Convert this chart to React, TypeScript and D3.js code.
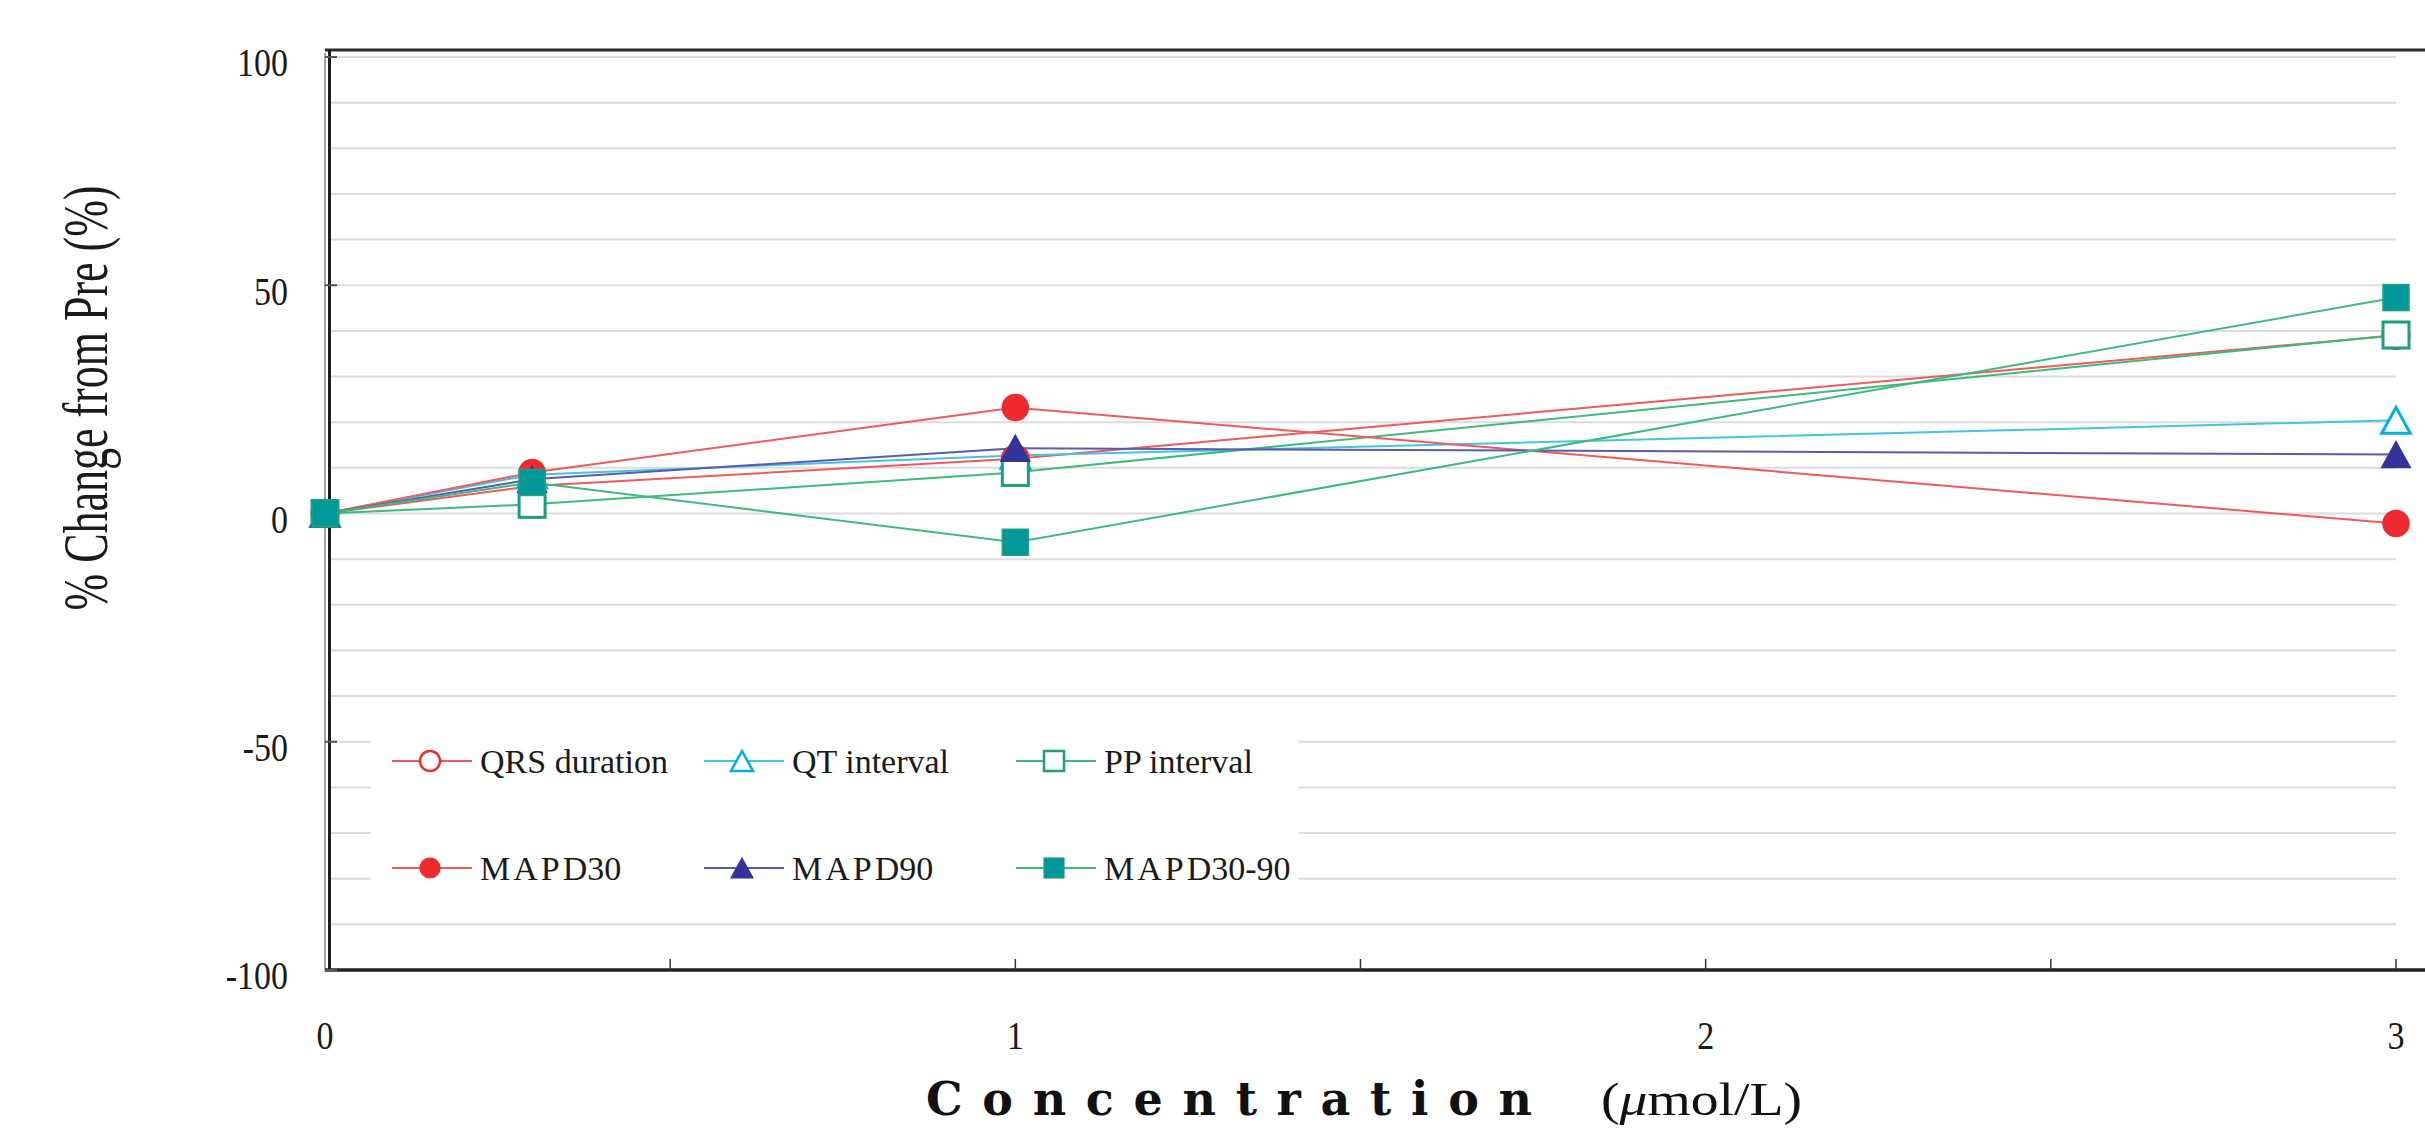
import React, { useEffect, useRef } from 'react';
import * as d3 from 'd3';

// concentration (umol/L)
const concentrations = [0, 0.3, 1, 3];

// % change from pre
const qrsDuration = [0, 6, 12, 39];
const qtInterval = [0, 8.5, 12.7, 20.4];
const ppInterval = [0, 2, 9, 39.1];
const mapd30 = [0, 9, 23.2, -2.2];
const mapd90 = [0, 7.5, 14.3, 12.9];
const mapd3090 = [0, 6.8, -6.3, 47.3];

const yTicks = [-100, -50, 0, 50, 100];
const xTicks = [0, 1, 2, 3];
const xMinorTicks = [0.5, 1, 1.5, 2, 2.5, 3];
const gridValues = d3.range(-90, 101, 10);

type Series = {
  name: string;
  values: number[];
  line: string;
  stroke: string;
  fill: string;
  shape: 'circle' | 'triangle' | 'square';
};

const series: Series[] = [
  { name: 'QRS duration', values: qrsDuration, line: '#f05a5a', stroke: '#ee2a2f', fill: '#ffffff', shape: 'circle' },
  { name: 'QT interval', values: qtInterval, line: '#45c3e3', stroke: '#00b1e0', fill: '#ffffff', shape: 'triangle' },
  { name: 'PP interval', values: ppInterval, line: '#3dbb7e', stroke: '#1e9e7e', fill: '#ffffff', shape: 'square' },
  { name: 'MAPD30', values: mapd30, line: '#f05a5a', stroke: '#ee2a2f', fill: '#ee2a2f', shape: 'circle' },
  { name: 'MAPD90', values: mapd90, line: '#5a5ab0', stroke: '#333399', fill: '#333399', shape: 'triangle' },
  { name: 'MAPD30-90', values: mapd3090, line: '#3dbb7e', stroke: '#1ba47c', fill: '#00979b', shape: 'square' },
];

const W = 2425;
const H = 1130;

const App = () => {
  const svgRef = useRef<SVGSVGElement>(null);

  useEffect(() => {
    if (!svgRef.current) return;
    const svg = d3.select(svgRef.current);
    svg.selectAll('*').remove();

    const x = d3.scaleLinear().domain([0, 3]).range([325, 2396]);
    const y = d3.scaleLinear().domain([-100, 100]).range([970, 57]);

    const serif = '"Liberation Serif", "Times New Roman", serif';

    // marker helper
    const drawMarker = (g: any, s: Series, cx: number, cy: number, size: number, sw: number) => {
      if (s.shape === 'circle') {
        g.append('circle')
          .attr('cx', cx).attr('cy', cy).attr('r', size / 2)
          .attr('fill', s.fill).attr('stroke', s.stroke).attr('stroke-width', sw);
      } else if (s.shape === 'square') {
        g.append('rect')
          .attr('x', cx - size / 2).attr('y', cy - size / 2)
          .attr('width', size).attr('height', size)
          .attr('fill', s.fill).attr('stroke', s.stroke).attr('stroke-width', sw);
      } else {
        const w = size * 1.1;
        const h = size;
        g.append('path')
          .attr('d', `M${cx},${cy - h / 2}L${cx + w / 2},${cy + h / 2}L${cx - w / 2},${cy + h / 2}Z`)
          .attr('fill', s.fill).attr('stroke', s.stroke).attr('stroke-width', sw)
          .attr('stroke-linejoin', 'miter');
      }
    };

    // gridlines
    svg.append('g')
      .selectAll('line')
      .data(gridValues)
      .enter()
      .append('line')
      .attr('x1', 329)
      .attr('x2', x(3))
      .attr('y1', (d) => y(d))
      .attr('y2', (d) => y(d))
      .attr('stroke', '#dcdce0')
      .attr('stroke-width', 2);

    // frame
    svg.append('line').attr('x1', 325).attr('x2', W).attr('y1', 50).attr('y2', 50)
      .attr('stroke', '#2a2a2a').attr('stroke-width', 3);
    svg.append('line').attr('x1', 329.5).attr('x2', 329.5).attr('y1', 49).attr('y2', 971)
      .attr('stroke', '#1e1e1e').attr('stroke-width', 3);
    svg.append('line').attr('x1', 325).attr('x2', 325).attr('y1', 53).attr('y2', 971)
      .attr('stroke', '#888').attr('stroke-width', 1.5);
    svg.append('line').attr('x1', 325).attr('x2', W).attr('y1', y(-100)).attr('y2', y(-100))
      .attr('stroke', '#222').attr('stroke-width', 3.5);

    // y ticks + labels
    svg.append('g')
      .selectAll('line')
      .data(yTicks)
      .enter()
      .append('line')
      .attr('x1', 325).attr('x2', 337)
      .attr('y1', (d) => y(d)).attr('y2', (d) => y(d))
      .attr('stroke', '#555').attr('stroke-width', 2);

    svg.append('g')
      .selectAll('text')
      .data(yTicks)
      .enter()
      .append('text')
      .attr('transform', (d) => `translate(288,${y(d) + 6}) scale(0.85,1)`)
      .attr('text-anchor', 'end')
      .attr('dominant-baseline', 'central')
      .style('font-family', serif)
      .style('font-size', '40px')
      .attr('fill', '#1a1a1a')
      .text((d) => d);

    // x ticks + labels
    svg.append('g')
      .selectAll('line')
      .data(xMinorTicks)
      .enter()
      .append('line')
      .attr('x1', (d) => x(d)).attr('x2', (d) => x(d))
      .attr('y1', y(-100)).attr('y2', y(-100) - 11)
      .attr('stroke', '#333').attr('stroke-width', 1.5);

    svg.append('g')
      .selectAll('text')
      .data(xTicks)
      .enter()
      .append('text')
      .attr('transform', (d) => `translate(${x(d)},1036) scale(0.85,1)`)
      .attr('text-anchor', 'middle')
      .attr('dominant-baseline', 'central')
      .style('font-family', serif)
      .style('font-size', '40px')
      .attr('fill', '#1a1a1a')
      .text((d) => d);

    // series lines
    const line = d3.line<number>()
      .x((d, i) => x(concentrations[i]))
      .y((d) => y(d));

    series.forEach((s) => {
      svg.append('path')
        .datum(s.values)
        .attr('d', line)
        .attr('fill', 'none')
        .attr('stroke', s.line)
        .attr('stroke-width', 2);
    });

    // markers
    series.forEach((s) => {
      const g = svg.append('g');
      s.values.forEach((v, i) => {
        drawMarker(g, s, x(concentrations[i]), y(v), 26, s.fill === '#ffffff' ? 3 : 1.5);
      });
    });

    // legend (white box hides gridlines)
    svg.append('rect')
      .attr('x', 371).attr('y', 718).attr('width', 928).attr('height', 182)
      .attr('fill', '#fff');

    const legend = svg.append('g');
    series.forEach((s, i) => {
      const col = i % 3;
      const row = Math.floor(i / 3);
      const cx = 430 + col * 312;
      const cy = 761 + row * 107;
      legend.append('line')
        .attr('x1', cx - 38).attr('x2', cx + 42)
        .attr('y1', cy).attr('y2', cy)
        .attr('stroke', s.line).attr('stroke-width', 2);
      drawMarker(legend, s, cx, cy, 20, s.fill === '#ffffff' ? 2.5 : 1.2);
      const t = legend.append('text')
        .attr('x', cx + 50)
        .attr('y', cy + 12)
        .style('font-family', serif)
        .style('font-size', '34px')
        .attr('fill', '#1a1a1a');
      if (s.name.startsWith('MAPD')) {
        t.append('tspan').style('letter-spacing', '3px').text('MAP');
        t.append('tspan').text(s.name.slice(3));
      } else {
        t.text(s.name);
      }
    });

    // y axis title
    svg.append('text')
      .attr('transform', 'translate(107,398) rotate(-90)')
      .attr('text-anchor', 'middle')
      .attr('textLength', 425)
      .attr('lengthAdjust', 'spacingAndGlyphs')
      .style('font-family', serif)
      .style('font-size', '64px')
      .attr('fill', '#1a1a1a')
      .text('% Change from Pre (%)');

    // x axis title
    svg.append('text')
      .attr('x', 926)
      .attr('y', 1115)
      .attr('textLength', 606)
      .attr('lengthAdjust', 'spacing')
      .style('font-family', '"DejaVu Serif", serif')
      .style('font-weight', 'bold')
      .style('font-size', '46px')
      .attr('fill', '#111')
      .text('Concentration');

    const unit = svg.append('text')
      .attr('x', 1601)
      .attr('y', 1115)
      .attr('textLength', 201)
      .attr('lengthAdjust', 'spacingAndGlyphs')
      .style('font-family', serif)
      .style('font-size', '46px')
      .attr('fill', '#111');
    unit.append('tspan').text('(');
    unit.append('tspan').style('font-style', 'italic').text('μ');
    unit.append('tspan').text('mol/L)');

    // clipped line of text at the very bottom edge
    svg.append('text')
      .attr('x', 1545)
      .attr('y', 1158)
      .attr('textLength', 210)
      .attr('lengthAdjust', 'spacing')
      .style('font-family', serif)
      .style('font-size', '38px')
      .attr('fill', '#111')
      .text('(μmol/L)');
  }, []);

  return (
    <div style={{ position: 'absolute', left: 0, top: 0, width: W, height: H, background: '#fff' }}>
      <svg ref={svgRef} width={W} height={H} style={{ display: 'block' }}></svg>
    </div>
  );
};

export default App;
